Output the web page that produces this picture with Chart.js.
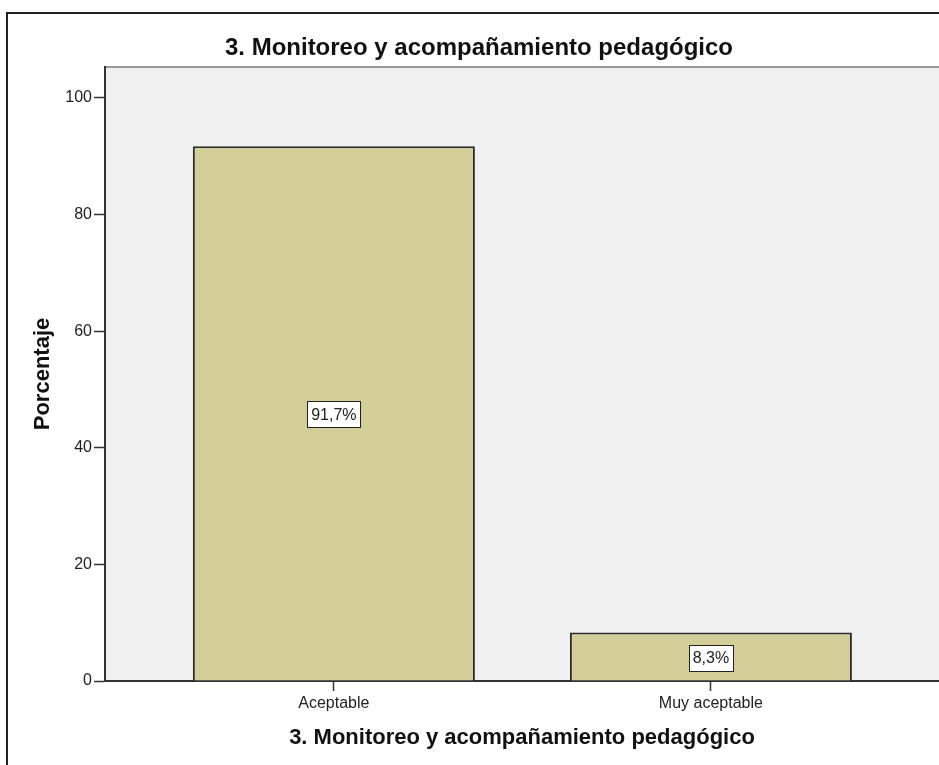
<!DOCTYPE html>
<html>
<head>
<meta charset="utf-8">
<script src="https://cdn.jsdelivr.net/npm/chart.js@4.4.1/dist/chart.umd.min.js"></script>
<style>
  body { margin: 0; background: #fff; }
  canvas { display: block; }
</style>
</head>
<body>
<canvas id="myChart" width="939" height="765"></canvas>
<script>
const chartTitle = '3. Monitoreo y acompañamiento pedagógico';
const categories = ['Aceptable', 'Muy aceptable'];
const percentages = [91.7, 8.3];
const yTicks = [0, 20, 40, 60, 80, 100];

const FONT = "'Liberation Sans', Arial, sans-serif";

// frame, grey plot background, top title
const backdrop = {
  id: 'backdrop',
  beforeDraw(chart) {
    const { ctx, chartArea: a } = chart;
    ctx.save();
    ctx.fillStyle = '#f0f0f0';
    ctx.fillRect(a.left, a.top, a.right - a.left, a.bottom - a.top);
    ctx.strokeStyle = '#999';
    ctx.lineWidth = 2;
    ctx.beginPath();
    ctx.moveTo(a.left, a.top);
    ctx.lineTo(a.right, a.top);
    ctx.stroke();
    ctx.strokeStyle = '#222';
    ctx.lineWidth = 2;
    ctx.strokeRect(7, 13, 1000, 1000);
    ctx.fillStyle = '#111';
    ctx.font = 'bold 24px ' + FONT;
    ctx.textAlign = 'center';
    ctx.textBaseline = 'middle';
    ctx.fillText(chartTitle, 479, 48);
    ctx.restore();
  }
};

// boxed value labels in the middle of each bar
const boxLabels = {
  id: 'boxLabels',
  afterDatasetsDraw(chart) {
    const { ctx } = chart;
    const meta = chart.getDatasetMeta(0);
    ctx.save();
    ctx.font = '16px ' + FONT;
    ctx.textAlign = 'center';
    ctx.textBaseline = 'middle';
    meta.data.forEach((bar, i) => {
      const txt = percentages[i].toFixed(1).replace('.', ',') + '%';
      const w = ctx.measureText(txt).width + 8;
      const h = 26;
      const cx = bar.x;
      const cy = (bar.y + bar.base) / 2 + 1;
      ctx.fillStyle = '#fff';
      ctx.fillRect(Math.round(cx - w / 2) + 0.5, Math.round(cy - h / 2) + 0.5, Math.round(w), h);
      ctx.strokeStyle = '#222';
      ctx.lineWidth = 1;
      ctx.strokeRect(Math.round(cx - w / 2) + 0.5, Math.round(cy - h / 2) + 0.5, Math.round(w), h);
      ctx.fillStyle = '#222';
      ctx.fillText(txt, cx, cy + 1);
    });
    ctx.restore();
  }
};

const ctx = document.getElementById('myChart');

new Chart(ctx, {
  type: 'bar',
  data: {
    datasets: [{
      data: percentages.map((v, i) => ({ x: i, y: v })),
      backgroundColor: '#d3ce98',
      borderColor: '#2a2a2a',
      borderWidth: 2,
      barPercentage: 0.748,
      categoryPercentage: 1
    }]
  },
  plugins: [backdrop, boxLabels],
  options: {
    responsive: false,
    animation: false,
    layout: { padding: { top: 67, left: 0, right: 0, bottom: 0 } },
    plugins: {
      legend: { display: false },
      title: { display: false },
      tooltip: { enabled: false }
    },
    scales: {
      x: {
        type: 'linear',
        offset: false,
        min: -0.607,
        max: 1.605,
        afterFit(scale) { scale.height = 84; },
        afterBuildTicks(scale) {
          scale.ticks = categories.map((c, i) => ({ value: i }));
        },
        ticks: {
          callback: (v) => categories[v] ?? '',
          color: '#222',
          font: { family: FONT, size: 16 },
          padding: 3,
          maxRotation: 0,
          autoSkip: false
        },
        grid: {
          offset: false,
          drawOnChartArea: false,
          drawTicks: true,
          tickLength: 10,
          tickColor: '#333',
          tickWidth: 1.5
        },
        border: { color: '#333', width: 2 },
        title: {
          display: true,
          text: chartTitle,
          color: '#111',
          font: { family: FONT, size: 22, weight: 'bold' },
          padding: { top: 0, bottom: 14 }
        }
      },
      y: {
        min: 0,
        max: 105.3,
        afterFit(scale) { scale.width = 105; },
        afterBuildTicks(scale) {
          scale.ticks = yTicks.map(v => ({ value: v }));
        },
        ticks: {
          color: '#222',
          font: { family: FONT, size: 16 },
          padding: 2
        },
        grid: {
          drawOnChartArea: false,
          drawTicks: true,
          tickLength: 11,
          tickColor: '#333',
          tickWidth: 1.5
        },
        border: { color: '#333', width: 2 },
        title: {
          display: true,
          text: 'Porcentaje',
          color: '#111',
          font: { family: FONT, size: 22, weight: 'bold' },
          padding: { top: 30, bottom: 0 }
        }
      }
    }
  }
});
</script>
</body>
</html>
